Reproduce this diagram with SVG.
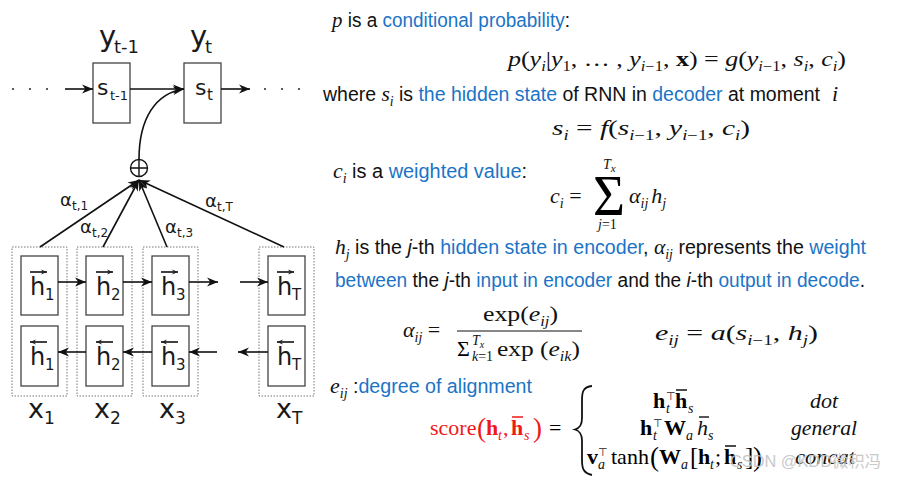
<svg xmlns="http://www.w3.org/2000/svg" width="897" height="479" viewBox="0 0 897 479">
<defs>
<style>
.d{font-family:"DejaVu Sans",sans-serif;fill:#1a1a1a}
.t{font-family:"Liberation Sans Narrow","Liberation Sans",Arial,sans-serif;font-size:20px;fill:#111}
.b{fill:#1b74c6}
.mi{font-family:"Liberation Serif","DejaVu Serif",serif;font-size:22px;font-style:italic;fill:#111}
.mu{font-family:"Liberation Serif","DejaVu Serif",serif;font-style:normal}
.mb{font-family:"Liberation Serif","DejaVu Serif",serif;font-weight:bold;font-style:normal;font-size:22px}
.ms{font-size:14px}
.box{fill:#fff;stroke:#444;stroke-width:1.3}
.dot{fill:none;stroke:#777;stroke-width:1;stroke-dasharray:1.5 1.5}
.ln{fill:none;stroke:#111;stroke-width:1.6}
.red{fill:#f01818}
</style>
<marker id="ah" viewBox="0 0 10 10" refX="10" refY="5" markerWidth="11" markerHeight="11" markerUnits="userSpaceOnUse" orient="auto"><path d="M0,1 L10,5 L0,9 L3,5 z" fill="#111"/></marker>
<marker id="sa" viewBox="0 0 10 10" refX="10" refY="5" markerWidth="6" markerHeight="6" markerUnits="userSpaceOnUse" orient="auto"><path d="M0,1 L10,5 L0,9 L3,5 z" fill="#222"/></marker>
</defs>
<rect width="897" height="479" fill="#fff"/>

<!-- decoder -->
<g id="y-prev"><text class="d" x="99" y="46" font-size="29">y</text><text class="d" x="114" y="53" font-size="18">t-1</text></g>
<g id="y-t"><text class="d" x="190" y="46" font-size="29">y</text><text class="d" x="205" y="53" font-size="18">t</text></g>
<g id="s-prev"><rect class="box" x="93" y="63" width="37" height="60"/><text class="d" x="97" y="95" font-size="22">s</text><text class="d" x="110" y="100" font-size="13">t-1</text></g>
<g id="s-t"><rect class="box" x="184" y="63" width="37" height="60"/><text class="d" x="195" y="95" font-size="22">s</text><text class="d" x="207" y="100" font-size="15">t</text></g>
<g id="dots-left" fill="#333"><circle cx="13" cy="89" r="1.1"/><circle cx="30" cy="89" r="1.1"/><circle cx="47" cy="89" r="1.1"/></g>
<g id="dots-right" fill="#333"><circle cx="265" cy="89" r="1.1"/><circle cx="282" cy="89" r="1.1"/><circle cx="299" cy="89" r="1.1"/></g>
<g id="sum"><circle cx="139" cy="168" r="8.5" fill="#fff" stroke="#111" stroke-width="1.4"/><path d="M130.5,168 H147.5 M139,159.5 V176.5" stroke="#111" stroke-width="1.4"/></g>

<!-- encoder columns -->
<g id="col-1">
<rect class="dot" x="12" y="247" width="55" height="149"/>
<rect class="box" x="21" y="256" width="37" height="59"/><rect class="box" x="21" y="326" width="37" height="60"/>
<path class="ln" d="M30,272 H47" stroke-width="1.2" marker-end="url(#sa)"/><text class="d" x="30" y="295" font-size="24">h</text><text class="d" x="45" y="300" font-size="15">1</text>
<path class="ln" d="M47,342 H30" stroke-width="1.2" marker-end="url(#sa)"/><text class="d" x="30" y="365" font-size="24">h</text><text class="d" x="45" y="370" font-size="15">1</text>
<text class="d" x="28" y="418" font-size="27">x</text><text class="d" x="44" y="424" font-size="17">1</text>
</g>
<g id="col-2">
<rect class="dot" x="77" y="247" width="55" height="149"/>
<rect class="box" x="86" y="256" width="37" height="59"/><rect class="box" x="86" y="326" width="37" height="60"/>
<path class="ln" d="M96,272 H113" stroke-width="1.2" marker-end="url(#sa)"/><text class="d" x="96" y="295" font-size="24">h</text><text class="d" x="111" y="300" font-size="15">2</text>
<path class="ln" d="M113,342 H96" stroke-width="1.2" marker-end="url(#sa)"/><text class="d" x="96" y="365" font-size="24">h</text><text class="d" x="111" y="370" font-size="15">2</text>
<text class="d" x="94" y="418" font-size="27">x</text><text class="d" x="110" y="424" font-size="17">2</text>
</g>
<g id="col-3">
<rect class="dot" x="143" y="247" width="55" height="149"/>
<rect class="box" x="152" y="256" width="37" height="59"/><rect class="box" x="152" y="326" width="37" height="60"/>
<path class="ln" d="M161,272 H178" stroke-width="1.2" marker-end="url(#sa)"/><text class="d" x="161" y="295" font-size="24">h</text><text class="d" x="176" y="300" font-size="15">3</text>
<path class="ln" d="M178,342 H161" stroke-width="1.2" marker-end="url(#sa)"/><text class="d" x="161" y="365" font-size="24">h</text><text class="d" x="176" y="370" font-size="15">3</text>
<text class="d" x="159" y="418" font-size="27">x</text><text class="d" x="175" y="424" font-size="17">3</text>
</g>
<g id="col-T">
<rect class="dot" x="259" y="247" width="55" height="149"/>
<rect class="box" x="268" y="256" width="37" height="59"/><rect class="box" x="268" y="326" width="37" height="60"/>
<path class="ln" d="M277,272 H294" stroke-width="1.2" marker-end="url(#sa)"/><text class="d" x="277" y="295" font-size="24">h</text><text class="d" x="292" y="300" font-size="15">T</text>
<path class="ln" d="M294,342 H277" stroke-width="1.2" marker-end="url(#sa)"/><text class="d" x="277" y="365" font-size="24">h</text><text class="d" x="292" y="370" font-size="15">T</text>
<text class="d" x="276" y="418" font-size="27">x</text><text class="d" x="292" y="424" font-size="17">T</text>
</g>

<g id="connectors">
<path class="ln" d="M65,89 H93" marker-end="url(#ah)"/>
<path class="ln" d="M130,89 H184" marker-end="url(#ah)"/>
<path class="ln" d="M221,89 H250" marker-end="url(#ah)"/>
<path class="ln" d="M139,159.5 C139,118 156,93 184,89" marker-end="url(#ah)"/>
<path class="ln" d="M40,247 L139,180" marker-end="url(#ah)"/>
<path class="ln" d="M103,247 L139,180" marker-end="url(#ah)"/>
<path class="ln" d="M167,247 L139,180" marker-end="url(#ah)"/>
<path class="ln" d="M284,247 L139,180" marker-end="url(#ah)"/>
<path class="ln" d="M58,282 H86" marker-end="url(#ah)"/>
<path class="ln" d="M123,282 H152" marker-end="url(#ah)"/>
<path class="ln" d="M189,282 H218" marker-end="url(#ah)"/>
<path class="ln" d="M240,282 H268" marker-end="url(#ah)"/>
<path class="ln" d="M86,352 H58" marker-end="url(#ah)"/>
<path class="ln" d="M152,352 H123" marker-end="url(#ah)"/>
<path class="ln" d="M217,352 H189" marker-end="url(#ah)"/>
<path class="ln" d="M268,352 H238" marker-end="url(#ah)"/>
</g>
<g id="alpha-labels">
<text class="d" x="60" y="206" font-size="18">α</text><text class="d" x="72" y="210" font-size="12">t,1</text>
<text class="d" x="80" y="233" font-size="18">α</text><text class="d" x="92" y="237" font-size="12">t,2</text>
<text class="d" x="165" y="233" font-size="18">α</text><text class="d" x="177" y="237" font-size="12">t,3</text>
<text class="d" x="205" y="207" font-size="18">α</text><text class="d" x="217" y="211" font-size="12">t,T</text>
</g>

<!-- right text -->
<g id="text">
<text class="t" x="332" y="27" textLength="238" lengthAdjust="spacingAndGlyphs"><tspan class="mi">p</tspan> is a <tspan class="b">conditional probability</tspan>:</text>
<text class="mi" x="508" y="66" textLength="338" lengthAdjust="spacingAndGlyphs">p<tspan class="mu">(</tspan>y<tspan class="ms" dy="5">i</tspan><tspan class="mu" dy="-5">|</tspan>y<tspan class="ms mu" dy="5">1</tspan><tspan class="mu" dy="-5">, … , </tspan>y<tspan class="ms" dy="5">i</tspan><tspan class="ms mu">−1</tspan><tspan class="mu" dy="-5">, </tspan><tspan class="mb">x</tspan><tspan class="mu">) = </tspan>g<tspan class="mu">(</tspan>y<tspan class="ms" dy="5">i</tspan><tspan class="ms mu">−1</tspan><tspan class="mu" dy="-5">, </tspan>s<tspan class="ms" dy="5">i</tspan><tspan class="mu" dy="-5">, </tspan>c<tspan class="ms" dy="5">i</tspan><tspan class="mu" dy="-5">)</tspan></text>
<text class="t" x="323" y="101" textLength="497" lengthAdjust="spacingAndGlyphs">where <tspan class="mi">s</tspan><tspan class="mi ms" dy="5">i</tspan><tspan dy="-5"> is </tspan><tspan class="b">the hidden state</tspan> of RNN in <tspan class="b">decoder</tspan> at moment</text>
<text class="mi" x="832" y="101">i</text>
<text class="mi" x="552" y="135" textLength="198" lengthAdjust="spacingAndGlyphs">s<tspan class="ms" dy="5">i</tspan><tspan class="mu" dy="-5"> = </tspan>f<tspan class="mu">(</tspan>s<tspan class="ms" dy="5">i</tspan><tspan class="ms mu">−1</tspan><tspan class="mu" dy="-5">, </tspan>y<tspan class="ms" dy="5">i</tspan><tspan class="ms mu">−1</tspan><tspan class="mu" dy="-5">, </tspan>c<tspan class="ms" dy="5">i</tspan><tspan class="mu" dy="-5">)</tspan></text>
<text class="t" x="333" y="178" textLength="194" lengthAdjust="spacingAndGlyphs"><tspan class="mi">c</tspan><tspan class="mi ms" dy="5">i</tspan><tspan dy="-5">  is a </tspan><tspan class="b">weighted value</tspan>:</text>
<text class="mi" x="550" y="203">c<tspan class="ms" dy="5">i</tspan><tspan class="mu" dy="-5"> =</tspan></text>
<text class="mu" x="593" y="215" font-size="58" textLength="32" lengthAdjust="spacingAndGlyphs">Σ</text>
<text class="mi ms" x="603" y="169">T<tspan font-size="11" dy="3">x</tspan></text>
<text class="mi ms" x="598" y="229">j<tspan class="mu">=1</tspan></text>
<text class="mi" x="629" y="203">α<tspan class="ms" dy="5">ij</tspan><tspan dy="-5" dx="3">h</tspan><tspan class="ms" dy="5">j</tspan></text>
<text class="t" x="335" y="254" textLength="531" lengthAdjust="spacingAndGlyphs"><tspan class="mi">h</tspan><tspan class="mi ms" dy="5">j</tspan><tspan dy="-5">  is the </tspan><tspan font-style="italic">j</tspan>-th <tspan class="b">hidden state in encoder</tspan>,  <tspan class="mi">α</tspan><tspan class="mi ms" dy="5">ij</tspan><tspan dy="-5"> represents the </tspan><tspan class="b">weight</tspan></text>
<text class="t" x="335" y="287" textLength="530" lengthAdjust="spacingAndGlyphs"><tspan class="b">between</tspan> the <tspan font-style="italic">j</tspan>-th <tspan class="b">input in encoder</tspan> and the <tspan font-style="italic">i</tspan>-th <tspan class="b">output in decode</tspan>.</text>
<text class="mi" x="403" y="337">α<tspan class="ms" dy="5">ij</tspan><tspan class="mu" dy="-5"> =</tspan></text>
<line x1="457" y1="331" x2="582" y2="331" stroke="#111" stroke-width="1.2"/>
<text class="mi" x="483" y="321" textLength="75" lengthAdjust="spacingAndGlyphs"><tspan class="mu">exp(</tspan>e<tspan class="ms" dy="5">ij</tspan><tspan class="mu" dy="-5">)</tspan></text>
<text class="mu" x="457" y="356" font-size="22">Σ</text>
<text class="mi ms" x="472" y="345" font-size="13">T<tspan font-size="10" dy="3">x</tspan></text>
<text class="mi ms" x="472" y="361" font-size="13">k<tspan class="mu">=1</tspan></text>
<text class="mi" x="497" y="356" textLength="83" lengthAdjust="spacingAndGlyphs"><tspan class="mu">exp (</tspan>e<tspan class="ms" dy="5">ik</tspan><tspan class="mu" dy="-5">)</tspan></text>
<text class="mi" x="655" y="340" textLength="163" lengthAdjust="spacingAndGlyphs">e<tspan class="ms" dy="5">ij</tspan><tspan class="mu" dy="-5"> = </tspan>a<tspan class="mu">(</tspan>s<tspan class="ms" dy="5">i</tspan><tspan class="ms mu">−1</tspan><tspan class="mu" dy="-5">, </tspan>h<tspan class="ms" dy="5">j</tspan><tspan class="mu" dy="-5">)</tspan></text>
<text class="mi" x="330" y="393">e<tspan class="ms" dy="5">ij</tspan></text>
<text class="t" x="353" y="393" textLength="179" lengthAdjust="spacingAndGlyphs">:<tspan class="b">degree of alignment</tspan></text>
</g>

<g id="score">
<text class="mu red" x="430" y="435" font-size="22">score</text>
<text class="mu red" x="477" y="437" font-size="27">(</text>
<text class="mb red" x="486" y="435">h</text><text class="mi ms red" x="498" y="440">t</text>
<text class="mu red" x="503" y="435" font-size="22">,</text>
<text class="mb red" x="511" y="435">h</text><line x1="512" y1="417" x2="523" y2="417" stroke="#f01818" stroke-width="1.5"/><text class="mi ms red" x="524" y="440">s</text>
<text class="mu red" x="533" y="437" font-size="27">)</text>
<text class="mu" x="549" y="435" font-size="22">=</text>
<path d="M592,386 C583,387 582,392 582,400 L582,418 C582,425 580,428 575,429.5 C580,431 582,434 582,441 L582,460 C582,468 583,473 592,475" fill="none" stroke="#111" stroke-width="1.8"/>
<text class="mb" x="653" y="408">h</text><text class="d" x="666" y="400" font-size="11">⊤</text><text class="mi ms" x="666" y="413">t</text>
<text class="mb" x="675" y="408">h</text><line x1="676" y1="390" x2="687" y2="390" stroke="#111" stroke-width="1.5"/><text class="mi ms" x="688" y="413">s</text>
<text class="mi" x="810" y="408">dot</text>
<text class="mb" x="640" y="435">h</text><text class="d" x="653" y="427" font-size="11">⊤</text><text class="mi ms" x="653" y="440">t</text>
<text class="mb" x="664" y="435">W</text><text class="mi ms" x="686" y="440">a</text>
<text class="mi" x="697" y="435">h</text><line x1="699" y1="417" x2="709" y2="417" stroke="#111" stroke-width="1.4"/><text class="mi ms" x="708" y="440">s</text>
<text class="mi" x="791" y="435" textLength="66" lengthAdjust="spacingAndGlyphs">general</text>
<text class="mb" x="587" y="464">v</text><text class="d" x="598" y="456" font-size="11">⊤</text><text class="mi ms" x="598" y="469">a</text>
<text class="mu" x="611" y="464" font-size="22">tanh</text>
<text class="mu" x="650" y="466" font-size="27">(</text>
<text class="mb" x="659" y="464">W</text><text class="mi ms" x="681" y="469">a</text>
<text class="mu" x="690" y="465" font-size="25">[</text>
<text class="mb" x="698" y="464">h</text><text class="mi ms" x="710" y="469">t</text>
<text class="mu" x="715" y="464" font-size="22">;</text>
<text class="mb" x="724" y="464">h</text><line x1="725" y1="446" x2="736" y2="446" stroke="#111" stroke-width="1.5"/><text class="mi ms" x="737" y="469">s</text>
<text class="mu" x="745" y="465" font-size="25">]</text>
<text class="mu" x="753" y="466" font-size="27">)</text>
<text class="mi" x="795" y="464" textLength="60" lengthAdjust="spacingAndGlyphs">concat</text>
<text x="730" y="467" font-family="'Liberation Sans','Noto Sans CJK SC',sans-serif" font-size="16" fill="#c4c4c4" opacity="0.9" textLength="151" lengthAdjust="spacingAndGlyphs">CSDN @KDD微积冯</text>
</g>
</svg>
